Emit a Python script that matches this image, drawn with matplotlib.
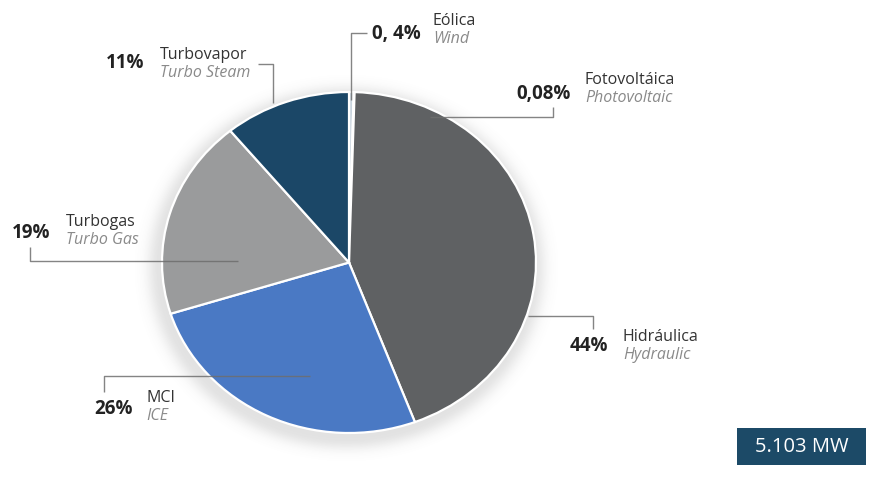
import numpy as np
import matplotlib
matplotlib.use("Agg")
import matplotlib.pyplot as plt
from matplotlib.patches import Rectangle

plt.rcParams['font.family'] = ['Open Sans', 'DejaVu Sans']

# Installed capacity by technology (share of total, %)
names_es = ["Eólica", "Fotovoltáica", "Hidráulica", "MCI", "Turbogas", "Turbovapor"]
names_en = ["Wind", "Photovoltaic", "Hydraulic", "ICE", "Turbo Gas", "Turbo Steam"]
shares = [0.4, 0.08, 44, 26, 19, 11]
share_labels = ["0, 4%", "0,08%", "44%", "26%", "19%", "11%"]
colors = ["#c8d4de", "#e8e2b0", "#5f6163", "#4a79c4", "#9a9b9c", "#1b4767"]
total_label = "5.103 MW"

W, H = 884, 480
fig = plt.figure(figsize=(W / 100, H / 100), dpi=100)
fig.patch.set_facecolor("white")

# pie placement in pixels (slightly wider than tall)
cx, cy, rx, ry = 349, 262.5, 187, 170.5

# soft shadow behind the pie
ax_bg = fig.add_axes([0, 0, 1, 1], zorder=0)
ax_bg.set_xlim(0, W)
ax_bg.set_ylim(H, 0)
ax_bg.axis("off")
yy, xx = np.mgrid[0:H, 0:W]
r = np.sqrt(((xx - cx + 3) / rx) ** 2 + ((yy - cy - 5) / ry) ** 2)
dist = (r - 1) * 178
alpha = np.where(dist > 0, 0.2 * np.exp(-(dist / 12.0) ** 2), 0.2)
shadow = np.zeros((H, W, 4))
shadow[..., :3] = 0.45
shadow[..., 3] = alpha
ax_bg.imshow(shadow, extent=(0, W, H, 0), interpolation="bilinear")

ax_pie = fig.add_axes([(cx - rx) / W, (H - cy - ry) / H, 2 * rx / W, 2 * ry / H], zorder=1)
ax_pie.pie(shares, colors=colors, startangle=90, counterclock=False,
           wedgeprops=dict(edgecolor="white", linewidth=1.6))
ax_pie.set_aspect("auto")
ax_pie.set_xlim(-1.0, 1.0)
ax_pie.set_ylim(-1.0, 1.0)
ax_pie.axis("off")

ax = fig.add_axes([0, 0, 1, 1], zorder=2)
ax.set_xlim(0, W)
ax.set_ylim(H, 0)
ax.axis("off")
ax.patch.set_alpha(0)

line_kw = dict(color="#6e6e6e", lw=1.0, alpha=0.85, solid_capstyle="butt")

# leader lines (polyline vertices in pixels) and label anchors
leaders = {
    "Eólica": [(367, 33), (351, 33), (351, 100)],
    "Fotovoltáica": [(553, 107), (553, 117), (430, 117)],
    "Hidráulica": [(593, 329), (593, 316), (528, 316)],
    "MCI": [(104, 392), (104, 376), (310, 376)],
    "Turbogas": [(30, 247), (30, 261), (238, 261)],
    "Turbovapor": [(258, 64), (273, 64), (273, 103)],
}
pct_pos = {
    "Eólica": (372, 34),
    "Fotovoltáica": (516, 94),
    "Hidráulica": (570, 346),
    "MCI": (94, 409),
    "Turbogas": (12, 233),
    "Turbovapor": (106, 63),
}
name_pos = {
    "Eólica": (433, 21),
    "Fotovoltáica": (585, 80),
    "Hidráulica": (623, 337),
    "MCI": (146, 398),
    "Turbogas": (66, 222),
    "Turbovapor": (160, 55),
}

for es, en, pl in zip(names_es, names_en, share_labels):
    pts = np.array(leaders[es])
    ax.plot(pts[:, 0], pts[:, 1], **line_kw)
    px, py = pct_pos[es]
    ax.text(px, py, pl, fontsize=13.5, fontweight="bold", color="#222222",
            ha="left", va="center")
    nx, ny = name_pos[es]
    ax.text(nx, ny, es, fontsize=11.5, color="#333333", ha="left", va="center")
    ax.text(nx, ny + 18, en, fontsize=11.5, style="italic", color="#8a8a8a",
            ha="left", va="center")

# total capacity badge
ax.add_patch(Rectangle((737, 428), 129, 37, facecolor="#1c4a67", edgecolor="none"))
ax.text(801.5, 447, total_label, fontsize=14.5, color="white", ha="center", va="center")

fig.savefig("out.png", dpi=100, facecolor="white")
